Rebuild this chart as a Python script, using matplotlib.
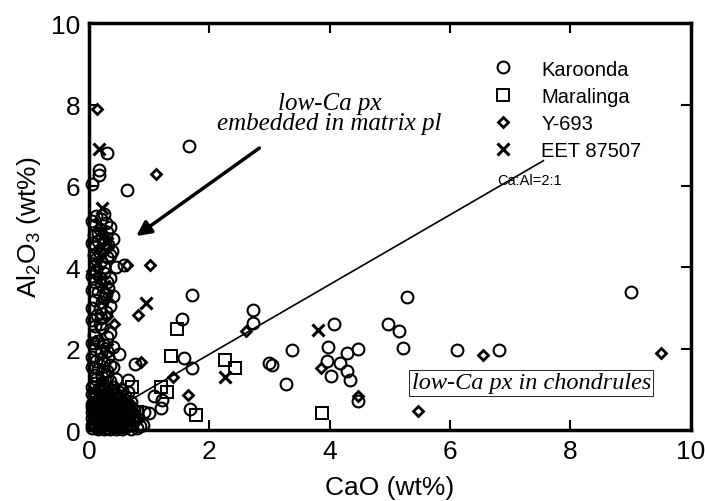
import matplotlib
matplotlib.use("Agg")
import matplotlib.pyplot as plt

plt.rcParams['font.family'] = ['Liberation Sans', 'DejaVu Sans']
plt.rcParams['mathtext.default'] = 'regular'

# Karoonda (circles): CaO, Al2O3 in wt%
karoonda_x = [
    # scattered analyses
    1.67, 0.30, 0.17, 0.17, 0.05, 0.64, 0.45, 0.58, 1.71, 1.55, 2.72, 2.72,
    1.58, 1.71, 3.0, 0.77, 0.65, 1.08, 1.22, 1.2, 1.0, 0.92, 1.68,
    5.28, 4.08, 4.97, 5.15, 5.22, 3.38, 3.05, 3.28, 3.98, 4.47, 4.28, 3.95,
    4.17, 4.03, 4.28, 4.33, 4.47, 6.12, 6.82, 9.0,
    # upper part of the matrix band
    0.12, 0.2, 0.28, 0.1, 0.35, 0.18, 0.3, 0.08, 0.22, 0.4, 0.15, 0.32,
    0.1, 0.25, 0.38, 0.18, 0.08, 0.3, 0.2,
    0.05, 0.25, 0.15, 0.27, 0.05, 0.35, 0.12, 0.25,
    # middle part
    0.12, 0.25, 0.35, 0.1, 0.2, 0.32, 0.15, 0.28, 0.4, 0.1, 0.22, 0.35,
    0.18, 0.13,
    0.05, 0.18, 0.3, 0.05, 0.25, 0.05, 0.28, 0.2, 0.05,
    # lower part
    0.1, 0.22, 0.08, 0.3, 0.15, 0.25, 0.4, 0.1, 0.2, 0.5, 0.32, 0.12, 0.25,
    0.4, 0.15, 0.3, 0.1, 0.22, 0.45, 0.35,
    0.18, 0.35, 0.05, 0.3, 0.05, 0.2, 0.35, 0.05, 0.25, 0.12, 0.3,
    # chondrule cluster near the origin
    0.1, 0.25, 0.4, 0.55, 0.15, 0.3, 0.05, 0.45, 0.2, 0.6, 0.35, 0.1, 0.5,
    0.25, 0.7, 0.4, 0.15, 0.6, 0.3, 0.05, 0.5, 0.2, 0.75, 0.4, 0.1, 0.65,
    0.3, 0.55, 0.2, 0.45, 0.05, 0.8, 0.35, 0.15, 0.6, 0.25, 0.5, 0.1, 0.7,
    0.4, 0.2, 0.55, 0.3, 0.05, 0.85, 0.45, 0.15, 0.65, 0.35,
    0.05, 0.2, 0.35, 0.5, 0.65, 0.08, 0.28, 0.45, 0.6, 0.15, 0.35, 0.55,
    0.05, 0.25, 0.45, 0.7, 0.15, 0.35, 0.6, 0.05, 0.25, 0.5, 0.75, 0.15,
    0.4, 0.65, 0.25, 0.1, 0.5, 0.75, 0.35, 0.2, 0.6, 0.05, 0.3, 0.8, 0.45,
    0.15, 0.25, 0.55, 0.7,
    0.12, 0.3, 0.42, 0.22, 0.08, 0.38, 0.52, 0.18, 0.32, 0.48, 0.62, 0.1,
    0.28, 0.42, 0.58, 0.2, 0.38, 0.52, 0.68, 0.12, 0.3, 0.45, 0.62, 0.22,
    0.38, 0.55, 0.72, 0.1, 0.28, 0.42, 0.58, 0.18, 0.48, 0.9, 0.62, 0.08,
]
karoonda_y = [
    6.97, 6.8, 6.4, 6.28, 6.05, 5.9, 4.0, 4.07, 3.33, 2.72, 2.96, 2.64,
    1.78, 1.53, 1.66, 1.63, 1.24, 0.83, 0.75, 0.55, 0.43, 0.45, 0.53,
    3.26, 2.6, 2.6, 2.43, 2.03, 1.98, 1.61, 1.14, 2.05, 2.0, 1.9, 1.7,
    1.65, 1.34, 1.46, 1.24, 0.72, 1.96, 1.98, 3.4,
    5.25, 5.2, 5.1, 5.05, 5.0, 4.95, 4.88, 4.8, 4.75, 4.7, 4.65, 4.55,
    4.5, 4.45, 4.4, 4.35, 4.3, 4.25, 4.15,
    5.15, 5.3, 4.85, 4.6, 4.6, 4.3, 4.2, 4.0,
    3.9, 3.85, 3.75, 3.65, 3.6, 3.5, 3.4, 3.35, 3.3, 3.2, 3.15, 3.05,
    3.0, 2.84,
    3.8, 3.75, 3.65, 3.45, 3.25, 3.0, 2.9, 2.75, 2.7,
    2.55, 2.5, 2.35, 2.3, 2.2, 2.1, 2.05, 2.0, 1.9, 1.86, 1.8, 1.7, 1.65,
    1.55, 1.5, 1.45, 1.35, 1.3, 1.25, 1.2,
    2.6, 2.4, 2.15, 1.95, 1.8, 1.75, 1.6, 1.55, 1.45, 1.25, 1.3,
    1.15, 1.1, 1.05, 1.0, 0.98, 0.95, 0.9, 0.9, 0.85, 0.85, 0.8, 0.78, 0.75,
    0.72, 0.7, 0.68, 0.65, 0.62, 0.6, 0.58, 0.55, 0.52, 0.5, 0.48, 0.45, 0.42,
    0.4, 0.38, 0.35, 0.32, 0.3, 0.3, 0.28, 0.25, 0.22, 0.2, 0.18, 0.15, 0.15,
    0.12, 0.1, 0.08, 0.06, 0.05, 0.1, 0.04, 0.03, 0.65, 0.02,
    1.05, 1.0, 1.0, 0.95, 0.95, 0.85, 0.85, 0.8, 0.75, 0.72, 0.7, 0.68,
    0.65, 0.62, 0.6, 0.58, 0.55, 0.52, 0.48, 0.45, 0.45, 0.42, 0.38, 0.38,
    0.35, 0.32, 0.3, 0.25, 0.25, 0.22, 0.2, 0.18, 0.12, 0.12, 0.12, 0.05,
    0.08, 0.06, 0.02, 0.02, 0.03,
    0.92, 0.9, 0.88, 0.8, 0.7, 0.75, 0.78, 0.6, 0.62, 0.64, 0.66, 0.5,
    0.52, 0.55, 0.56, 0.4, 0.44, 0.46, 0.48, 0.32, 0.35, 0.38, 0.4, 0.22,
    0.26, 0.28, 0.3, 0.15, 0.18, 0.2, 0.22, 0.08, 0.1, 0.12, 0.08, 0.35,
]

# Maralinga (squares)
maralinga_x = [1.47, 1.37, 2.27, 2.42, 0.72, 1.2, 1.3, 1.78, 0.8, 3.88,
               0.3, 0.5, 0.2]
maralinga_y = [2.49, 1.83, 1.73, 1.53, 1.05, 1.07, 0.95, 0.38, 0.45, 0.43,
               0.3, 0.6, 0.8]

# Y-693 (diamonds)
y693_x = [0.13, 1.12, 1.02, 0.63, 0.82, 2.61, 1.4, 0.87, 1.65, 3.85, 4.47,
          5.47, 6.54, 9.5, 0.05, 0.13, 0.3, 0.42, 0.15, 0.1, 0.2, 0.12, 0.35,
          0.6]
y693_y = [7.9, 6.3, 4.07, 4.05, 2.84, 2.43, 1.31, 1.68, 0.87, 1.53, 0.85,
          0.48, 1.84, 1.9, 3.9, 3.8, 2.8, 2.6, 4.45, 2.2, 1.2, 0.6, 0.5, 0.3]

# EET 87507 (crosses)
eet_x = [0.17, 0.22, 0.95, 2.27, 3.8, 0.2, 0.3, 0.25, 0.32, 0.15, 0.3, 0.2,
         0.4]
eet_y = [6.9, 5.45, 3.13, 1.31, 2.45, 4.9, 4.6, 3.55, 3.3, 4.1, 2.0, 0.9,
         0.6]

# Ca:Al = 2:1 reference line
ratio_x = [0.7, 7.55]
ratio_y = [0.75, 6.62]

ticks = [0, 2, 4, 6, 8, 10]

fig, ax = plt.subplots(figsize=(7.05, 5.02), dpi=100)
fig.subplots_adjust(left=0.126, right=0.980, bottom=0.141, top=0.952)

ax.plot(ratio_x, ratio_y, color='black', lw=1.2, zorder=1)

ax.plot(karoonda_x, karoonda_y, 'o', ms=8.5, mfc='none', mec='black',
        mew=1.5, label='Karoonda', clip_on=False)
ax.plot(maralinga_x, maralinga_y, 's', ms=8.5, mfc='none', mec='black',
        mew=1.4, label='Maralinga', clip_on=False)
ax.plot(y693_x, y693_y, 'D', ms=5.5, mfc='none', mec='black',
        mew=2.0, label='Y-693', clip_on=False)
ax.plot(eet_x, eet_y, 'x', ms=8, mec='black', mew=2.2,
        label='EET 87507', clip_on=False)

ax.set_xlim(0, 10)
ax.set_ylim(0, 10)
ax.set_xticks(ticks)
ax.set_yticks(ticks)
ax.tick_params(direction='in', length=7, width=1.5, labelsize=19,
               top=True, right=True, pad=6)
for sp in ax.spines.values():
    sp.set_linewidth(2.5)

ax.set_xlabel('CaO (wt%)', fontsize=19, labelpad=9)
ax.set_ylabel('Al$_2$O$_3$ (wt%)', fontsize=19, labelpad=6)

ax.legend(loc='upper left', bbox_to_anchor=(0.633, 0.955), frameon=False,
          fontsize=14.5, labelspacing=0.4, handletextpad=1.15,
          handlelength=1.5)

# arrow and label for matrix pyroxene
ax.annotate('', xy=(0.75, 4.73), xytext=(2.87, 6.97),
            arrowprops=dict(arrowstyle='-|>', lw=2.5, color='black',
                            mutation_scale=22))
ax.text(4.0, 7.8, 'low-Ca px\nembedded in matrix pl', ha='center',
        va='center', fontsize=18, style='italic', family='Liberation Serif',
        linespacing=0.9)

ax.text(6.78, 6.15, 'Ca:Al=2:1', fontsize=10.5, ha='left', va='center')

ax.text(7.35, 1.17, 'low-Ca px in chondrules', ha='center', va='center',
        fontsize=17.5, style='italic', family='Liberation Serif',
        bbox=dict(boxstyle='square,pad=0.1', fc='white', ec='black',
                  lw=0.6))

fig.savefig('out.png', dpi=100)
